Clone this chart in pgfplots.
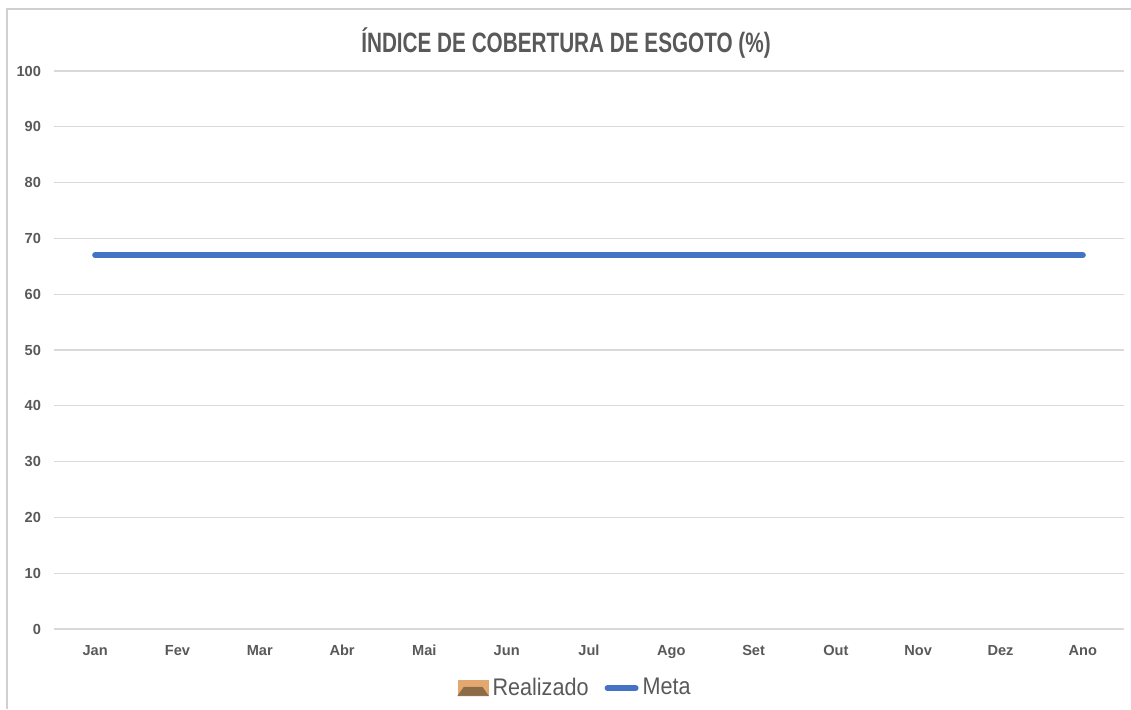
\documentclass[border=0pt]{standalone}
\usepackage{pgfplots}
\pgfplotsset{compat=1.18}
\usepackage{fontspec}
\setmainfont{Liberation Sans}
\newfontfamily\titlefont{Liberation Sans}[FakeStretch=0.74]
\newfontfamily\legfont{Liberation Sans}[FakeStretch=0.9]
\definecolor{txt}{HTML}{595959}
\definecolor{gridc}{HTML}{D9D9D9}
\definecolor{meta}{HTML}{4472C4}
\definecolor{tanA}{HTML}{E3A86F}
\definecolor{brownB}{HTML}{8C6B48}
\definecolor{borderc}{HTML}{D0D0D0}
\begin{document}
\begin{tikzpicture}[x=0.5pt,y=0.5pt]
\path[use as bounding box] (0,0) rectangle (1131,709);
\draw[borderc, line width=0.75pt] (7,0) -- (7,700) -- (1131,700);
\node[text=txt, font=\titlefont\bfseries\fontsize{14}{16}\selectfont] at (566,666) {ÍNDICE DE COBERTURA DE ESGOTO (\%)};
\begin{axis}[
  at={(27pt,40pt)}, anchor=south west,
  scale only axis, width=535pt, height=279pt,
  xmin=-0.5, xmax=12.5, ymin=0, ymax=100,
  xtick={0,...,12},
  xticklabels={Jan,Fev,Mar,Abr,Mai,Jun,Jul,Ago,Set,Out,Nov,Dez,Ano},
  ytick={0,10,...,100},
  axis line style={draw=none},
  tick style={draw=none},
  ymajorgrids, grid style={gridc, line width=0.6pt},
  tick label style={text=txt, font=\bfseries\fontsize{7.3}{8}\selectfont},
  /pgf/number format/assume math mode=true,
  yticklabel style={xshift=-3pt},
  xticklabel style={yshift=-4pt, text height=5.5pt, text depth=1.5pt},
  legend columns=2,
  legend style={at={(0.488,-0.106)}, anchor=center, draw=none, fill=none,
    font=\legfont\fontsize{12}{14}\selectfont, text=txt,
    /tikz/every even column/.append style={column sep=6pt},
    inner sep=0pt},
]
\addlegendimage{legend image code/.code={
  \fill[tanA] (0pt,-3.75pt) rectangle (15pt,3.75pt);
  \fill[brownB] (0pt,-3.75pt) -- (15pt,-3.75pt) -- (12pt,0.5pt) -- (3pt,0.5pt) -- cycle;
}}
\addlegendentry{Realizado}
\addplot[meta, line width=3pt, line cap=round,
  legend image code/.code={\draw[meta, line width=3pt, line cap=round] (1.5pt,0pt) -- (15.5pt,0pt);}]
  coordinates {(0,67) (1,67) (2,67) (3,67) (4,67) (5,67) (6,67) (7,67) (8,67) (9,67) (10,67) (11,67) (12,67)};
\addlegendentry{Meta}
\end{axis}
\end{tikzpicture}
\end{document}
